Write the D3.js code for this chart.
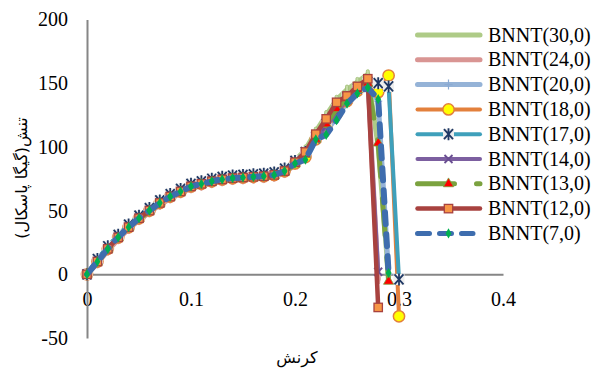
<!DOCTYPE html>
<html>
<head>
<meta charset="utf-8">
<script src="https://cdn.jsdelivr.net/npm/d3@7"></script>
<style>
  html, body { margin: 0; padding: 0; background: #fff; }
  svg { display: block; }
</style>
</head>
<body>
<svg id="chart" width="600" height="373"></svg>
<script>
// ---- data ----
const strain = [0, 0.01, 0.02, 0.03, 0.04, 0.05, 0.06, 0.07, 0.08, 0.09, 0.10,
                0.11, 0.12, 0.13, 0.14, 0.15, 0.16, 0.17, 0.18, 0.19, 0.20,
                0.21, 0.22, 0.23, 0.24, 0.25, 0.26, 0.27, 0.28, 0.29, 0.30];

const seriesNames = ["BNNT(30,0)", "BNNT(24,0)", "BNNT(20,0)", "BNNT(18,0)", "BNNT(17,0)",
                     "BNNT(14,0)", "BNNT(13,0)", "BNNT(12,0)", "BNNT(7,0)"];

const stress30 = [0, 11, 21, 30.5, 38.5, 45.5, 51.5, 57.5, 62.5, 66.5, 70.5, 72.5, 74.5, 76, 77, 77.5, 78, 78.5, 79.5, 82.5, 89,
                  98, 112, 125, 137, 145, 151, 157, 100, -2];
const stress24 = [0, 8.5, 18.5, 27.5, 35.5, 42.5, 48.5, 54.5, 59.5, 63.5, 67.5, 69.5, 71.5, 73, 74, 74.5, 75, 75.5, 76.5, 79.5, 86,
                  93, 105, 115, 126, 136, 144, 153, -4];
const stress20 = [0, 11, 21, 30, 38, 45, 51, 57, 62, 66, 70, 72, 74, 75.5, 76.5, 77, 77.5, 78, 79, 82, 88,
                  92, 106, 112, 123, 135, 143, 147.5, 136, 0];
const stress18 = [0, 10, 20, 29, 37, 44, 50, 56, 61, 65, 69, 71, 73, 74.5, 75.5, 76, 76.5, 77, 78, 81, 87,
                  92, 106, 115, 126, 136, 144, 150, 143, 156, -33];
const stress17 = [0, 12, 22, 31, 39, 46, 52, 58, 63, 67, 71, 73, 75, 76.5, 77.5, 78, 78.5, 79, 80, 83, 89,
                  96, 108, 118, 129, 139, 146, 151, 150, 147.5, -4];
const stress14 = [0, 10.5, 20.5, 29.5, 37.5, 44.5, 50.5, 56.5, 61.5, 65.5, 69.5, 71.5, 73.5, 75, 76, 76.5, 77, 77.5, 78.5, 81.5, 87.5,
                  95, 106, 116, 127, 137, 145, 150, 2];
const stress13 = [0, 9.5, 19.5, 28.5, 36.5, 43.5, 49.5, 55.5, 60.5, 64.5, 68.5, 70.5, 72.5, 74, 75, 75.5, 76, 76.5, 77.5, 80.5, 86.5,
                  94, 106, 118, 130, 138, 145, 150, 103, -5.5];
const stress12 = [0, 10, 20, 29, 37, 44, 50, 56, 61, 65, 69, 71, 73, 74.5, 75.5, 76, 76.5, 77, 78, 81, 88,
                  96, 110, 122, 135, 140, 147.5, 153.5, -26];
const stress7  = [0, 10, 20, 29, 37, 44, 50, 56, 61, 65, 69, 71, 73, 74.5, 75.5, 76, 76.5, 77, 78, 81, 87,
                  90, 106, 109.5, 121, 134, 142, 146.5, 137.5, 1];

const xTicks = [0, 0.1, 0.2, 0.3, 0.4];
const yTicks = [-50, 0, 50, 100, 150, 200];
const xTitle = "کرنش";
const yTitle = "تنش(گیگا پاسکال)";

const stressList = [stress30, stress24, stress20, stress18, stress17, stress14, stress13, stress12, stress7];

// ---- styles ----
const styles = [
  { color: "#AECB87", width: 5, dash: null, marker: "dash", mFill: "#C4DAA6", mStroke: "#9DBC72" },
  { color: "#D99593", width: 5, dash: null, marker: "dash", mFill: "#E6B4B2", mStroke: "#CF8785" },
  { color: "#95B3D7", width: 5, dash: null, marker: "plus", mFill: "none", mStroke: "#8AAAD2" },
  { color: "#E3803C", width: 4, dash: null, marker: "circle", mFill: "#FFFF00", mStroke: "#E3803C" },
  { color: "#3FA0BB", width: 4, dash: null, marker: "star", mFill: "#EEEEEE", mStroke: "#1F3864" },
  { color: "#7C5FA0", width: 4, dash: null, marker: "x", mFill: "none", mStroke: "#6A4F92" },
  { color: "#7BA23F", width: 5, dash: "37,22", marker: "triangle", mFill: "#FF0000", mStroke: "#7BA23F" },
  { color: "#A8423F", width: 4.5, dash: null, marker: "square", mFill: "#F79646", mStroke: "#A8423F" },
  { color: "#3E6DAE", width: 6, dash: "12,10", marker: "diamond", mFill: "#00B050", mStroke: "#00B050" }
];

// ---- chart ----
const svg = d3.select("#chart");
const x = d3.scaleLinear().domain([0, 0.4]).range([87, 503]);
const y = d3.scaleLinear().domain([-50, 200]).range([338, 19.5]);

const serif = "'Liberation Serif', 'Times New Roman', serif";

// axes
const gx = svg.append("g").attr("transform", `translate(0,${y(0)})`)
  .call(d3.axisBottom(x).tickValues(xTicks).tickSize(0).tickPadding(18)
        .tickFormat(d => String(d)));
const gy = svg.append("g").attr("transform", `translate(${x(0)},0)`)
  .call(d3.axisLeft(y).tickValues(yTicks).tickSize(0).tickPadding(19).tickFormat(d => String(d)));

[gx, gy].forEach(g => {
  g.select(".domain").attr("stroke", "#868686").attr("stroke-width", 2);
  g.selectAll("text").attr("font-family", serif).attr("font-size", 20).attr("fill", "#000");
});

// titles
svg.append("text")
  .attr("x", 297).attr("y", 363)
  .attr("text-anchor", "middle")
  .attr("font-family", "'DejaVu Sans', sans-serif")
  .attr("font-size", 16)
  .attr("direction", "rtl")
  .text(xTitle);

svg.append("text")
  .attr("transform", "translate(21,178) rotate(-90)")
  .attr("text-anchor", "middle")
  .attr("dominant-baseline", "central")
  .attr("font-family", "'DejaVu Sans', sans-serif")
  .attr("font-size", 16)
  .attr("direction", "rtl")
  .text(yTitle);

// marker drawing
function drawMarker(g, type, st, cx, cy) {
  const m = g.append("g").attr("transform", `translate(${cx},${cy})`);
  switch (type) {
    case "dash":
      m.append("rect").attr("x", -1.5).attr("y", -4.5).attr("width", 3).attr("height", 9)
        .attr("rx", 1.2).attr("fill", st.mFill).attr("stroke", st.mStroke).attr("stroke-width", 0.8);
      break;
    case "plus":
      m.append("path").attr("d", "M-4,0H4M0,-5V5").attr("stroke", st.mStroke).attr("stroke-width", 1.2).attr("fill", "none");
      break;
    case "circle":
      m.append("path").attr("d", d3.symbol(d3.symbolCircle, 100)())
        .attr("fill", st.mFill).attr("stroke", st.mStroke).attr("stroke-width", 1.5);
      break;
    case "star":
      m.append("rect").attr("x", -5.5).attr("y", -5.5).attr("width", 11).attr("height", 11).attr("fill", st.mFill);
      m.append("path").attr("d", "M-4.5,-5L4.5,5M4.5,-5L-4.5,5M0,-6V6")
        .attr("stroke", st.mStroke).attr("stroke-width", 1.8).attr("fill", "none");
      break;
    case "x":
      m.append("path").attr("d", "M-4,-4L4,4M4,-4L-4,4").attr("stroke", st.mStroke).attr("stroke-width", 1.8).attr("fill", "none");
      break;
    case "triangle":
      m.append("path").attr("d", d3.symbol(d3.symbolTriangle, 45)())
        .attr("fill", st.mFill).attr("stroke", st.mStroke).attr("stroke-width", 0.8);
      break;
    case "square":
      m.append("rect").attr("x", -4.2).attr("y", -4.2).attr("width", 8.4).attr("height", 8.4)
        .attr("fill", st.mFill).attr("stroke", st.mStroke).attr("stroke-width", 1.3);
      break;
    case "diamond":
      m.append("path").attr("d", d3.symbol(d3.symbolDiamond, 30)())
        .attr("fill", st.mFill).attr("stroke", "none");
      break;
  }
}

const line = d3.line().x(d => x(d[0])).y(d => y(d[1]));
const plot = svg.append("g");

stressList.forEach((vals, i) => {
  const st = styles[i];
  const pts = vals.map((v, k) => [strain[k], v]);
  const g = plot.append("g");
  g.append("path").datum(pts).attr("d", line)
    .attr("fill", "none").attr("stroke", st.color).attr("stroke-width", st.width)
    .attr("stroke-linejoin", "round").attr("stroke-linecap", "round")
    .attr("stroke-dasharray", st.dash);
  pts.forEach(p => drawMarker(g, st.marker, st, x(p[0]), y(p[1])));
});

// legend
const legY0 = 35, legStep = 24.8;
const leg = svg.append("g");
seriesNames.forEach((name, i) => {
  const st = styles[i];
  const yy = legY0 + i * legStep;
  const g = leg.append("g");
  g.append("line").attr("x1", 417.5).attr("x2", i === 8 ? 473 : 480).attr("y1", yy).attr("y2", yy)
    .attr("stroke", st.color).attr("stroke-width", i === 8 ? 5 : st.width)
    .attr("stroke-linecap", "round").attr("stroke-dasharray", st.dash);
  if (st.marker !== "dash") drawMarker(g, st.marker, st, 448.5, yy);
  g.append("text").attr("x", 488).attr("y", yy).attr("dy", "0.33em")
    .attr("font-family", serif).attr("font-size", 20).attr("fill", "#000")
    .text(name);
});
</script>
</body>
</html>
